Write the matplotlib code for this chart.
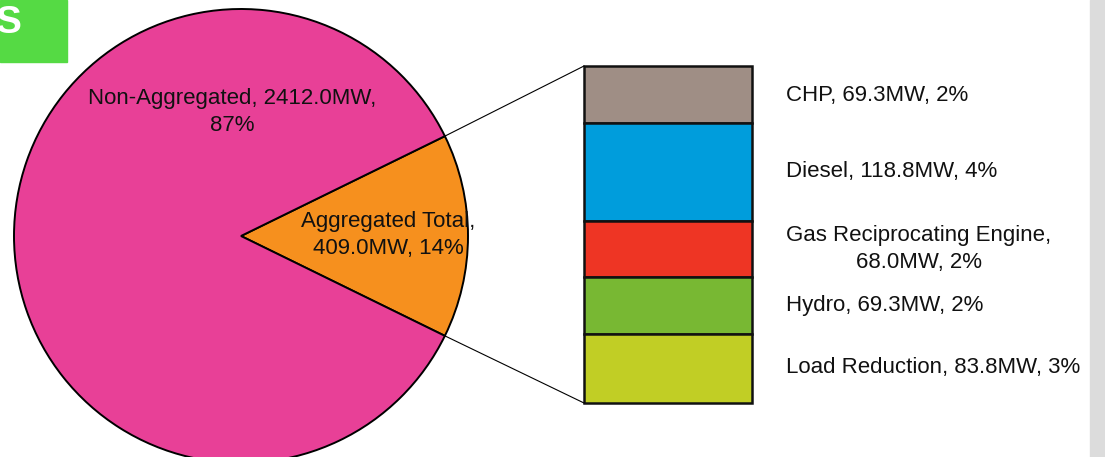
import matplotlib
matplotlib.use("Agg")
import matplotlib.pyplot as plt
from matplotlib.patches import Rectangle
import numpy as np

plt.rcParams["font.family"] = ["Liberation Sans", "DejaVu Sans"]

# ---- data ----
pie_labels = ["Aggregated Total,\n409.0MW, 14%", "Non-Aggregated, 2412.0MW,\n87%"]
pie_values = [409.0, 2412.0]
pie_colors = ["#F6901E", "#E84097"]

bar_labels = ["CHP, 69.3MW, 2%", "Diesel, 118.8MW, 4%",
              "Gas Reciprocating Engine,\n68.0MW, 2%", "Hydro, 69.3MW, 2%",
              "Load Reduction, 83.8MW, 3%"]
bar_values = [69.3, 118.8, 68.0, 69.3, 83.8]
bar_colors = ["#9F8E85", "#009DDC", "#EE3524", "#78B833", "#C1CE25"]

# ---- layout (pixel space) ----
W, H = 1105, 457
cx, cy, r = 241, 236, 227
bar_x, bar_w, bar_top, bar_bot = 584, 168, 66, 403
FS = 16
LS = 1.4

fig = plt.figure(figsize=(W / 100, H / 100), dpi=100)
ax = fig.add_axes([0, 0, 1, 1])

theta = pie_values[0] / sum(pie_values) * 360
wedges, _ = ax.pie(pie_values, colors=pie_colors, center=(cx, cy), radius=r,
                   startangle=-theta / 2,
                   wedgeprops=dict(edgecolor="black", linewidth=1.4))

ax.set_xlim(0, W)
ax.set_ylim(H, 0)
ax.set_aspect("equal")
ax.axis("off")

# pie labels
ax.text(232, 112, pie_labels[1], ha="center", va="center", fontsize=FS,
        linespacing=LS, color="#111111")
ax.text(388, 235, pie_labels[0], ha="center", va="center", fontsize=FS,
        linespacing=LS, color="#111111")

# stacked bar of the aggregated breakdown
scale = (bar_bot - bar_top) / sum(bar_values)
heights = np.array(bar_values) * scale
bottoms = bar_top + np.concatenate([[0], np.cumsum(heights)[:-1]])
ax.bar([bar_x] * len(bar_values), heights, bottom=bottoms, width=bar_w,
       align="edge", color=bar_colors, edgecolor="#111111", linewidth=1.8)

# connector lines
a = np.deg2rad(theta / 2)
ex, ey = cx + r * np.cos(a), r * np.sin(a)
ax.plot([ex, bar_x], [cy - ey, bar_top], color="black", lw=0.8)
ax.plot([ex, bar_x], [cy + ey, bar_bot], color="black", lw=0.8)

# bar labels
label_y = [95, 172, 249, 305, 368]
for lab, y in zip(bar_labels, label_y):
    ax.text(786, y, lab, ha="left", va="center", fontsize=FS,
            multialignment="center", linespacing=LS, color="#111111")

# decorations: green tab and gray strip
ax.add_patch(Rectangle((0, 0), 67, 62, color="#55DA44", zorder=5))
ax.text(-4, 23, "S", ha="left", va="center", fontsize=28, fontweight="bold",
        color="white", zorder=6)
ax.add_patch(Rectangle((1090, 0), 15, H, color="#DCDCDC", zorder=5))

fig.savefig("out.png", dpi=100)
